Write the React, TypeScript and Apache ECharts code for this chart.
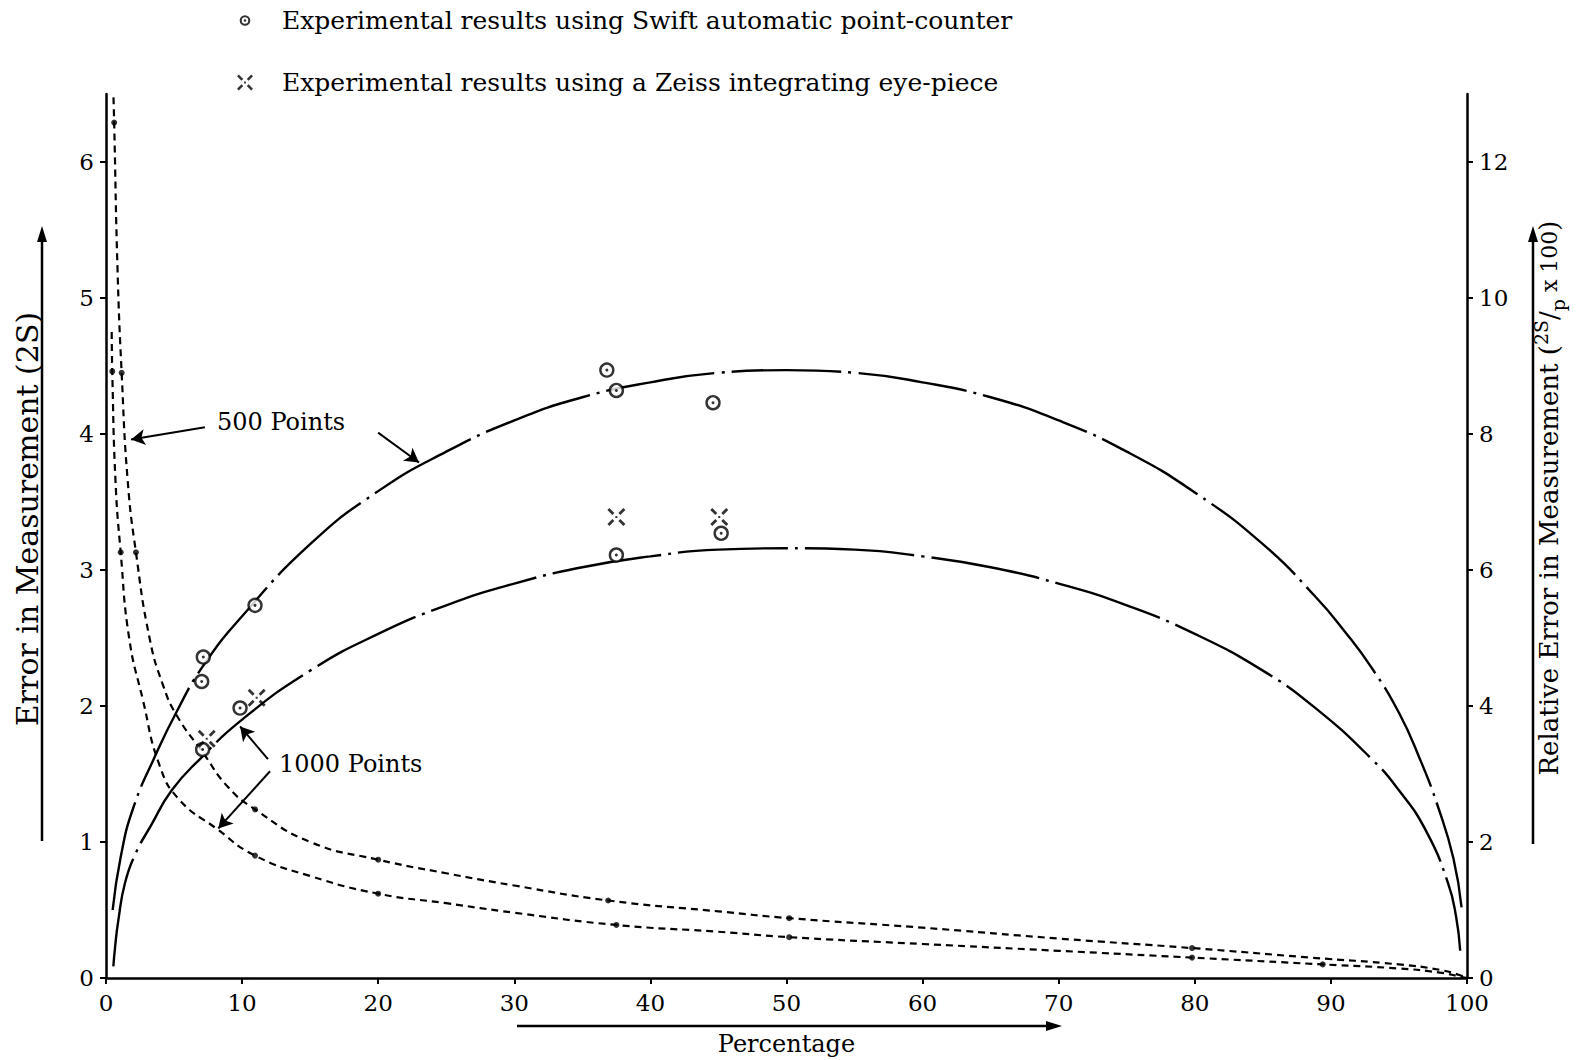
import React, { useEffect, useRef } from "react";
import * as echarts from "echarts";

// ---------- data ----------
const xTicks = [0, 10, 20, 30, 40, 50, 60, 70, 80, 90, 100];
const leftTicks = [0, 1, 2, 3, 4, 5, 6];
const rightTicks = [0, 2, 4, 6, 8, 10, 12];

// Error in measurement (2S), left axis
const arch500: number[][] = [
  [0.49, 0.5], [1.08, 0.89], [2.0, 1.25], [3.6, 1.63], [5.2, 1.96], [7.1, 2.29],
  [10, 2.66], [15, 3.19], [20, 3.58], [25, 3.87], [30, 4.1], [35, 4.27], [40, 4.38],
  [45, 4.45], [50, 4.47], [55, 4.45], [60, 4.38], [65, 4.27], [70, 4.1], [75, 3.87],
  [80, 3.57], [85, 3.19], [88.9, 2.8], [91, 2.55], [93, 2.28], [95, 1.95], [96.5, 1.62],
  [97.9, 1.25], [99, 0.88], [99.6, 0.52],
];
const arch1000: number[][] = [
  [0.54, 0.085], [0.66, 0.22], [0.9, 0.42], [1.4, 0.7], [2.2, 0.92], [3.3, 1.12],
  [4.83, 1.38], [6.9, 1.61], [10, 1.9], [15, 2.26], [20, 2.53], [25, 2.74], [30, 2.9],
  [35, 3.02], [40, 3.1], [45, 3.15], [50, 3.16], [55, 3.15], [60, 3.1], [65, 3.02],
  [70, 2.9], [75, 2.74], [80, 2.53], [85, 2.26], [88.8, 1.99], [93, 1.61], [95, 1.38],
  [97, 1.08], [98.6, 0.7], [99.2, 0.45], [99.5, 0.2],
];

// Relative error, right axis
const rel500: number[][] = [
  [0.55, 12.95], [0.6, 12.58], [0.85, 10.4], [1.15, 8.9], [1.6, 7.3], [2.2, 6.26],
  [3.2, 5.0], [4.2, 4.3], [5.2, 3.86], [7.1, 3.32], [9, 2.8], [10.95, 2.48], [15, 2.0],
  [20, 1.74], [25, 1.54], [30, 1.36], [36.9, 1.14], [45, 0.98], [50.2, 0.88], [60, 0.74],
  [70, 0.58], [79.8, 0.44], [88.5, 0.3], [95, 0.2], [98, 0.12], [99.5, 0.04], [100, 0],
];
const rel1000: number[][] = [
  [0.42, 9.5], [0.46, 8.92], [0.7, 7.3], [1.08, 6.26], [1.7, 5.0], [2.7, 4.1],
  [3.95, 3.12], [5.4, 2.62], [8.1, 2.2], [10.95, 1.8], [15, 1.5], [20, 1.24], [25, 1.1],
  [30, 0.96], [37.5, 0.78], [45, 0.68], [50.2, 0.6], [60, 0.5], [70, 0.4], [79.8, 0.3],
  [89.4, 0.2], [95, 0.14], [98, 0.08], [99.5, 0.02], [100, 0],
];
const rel500Dots: number[][] = [
  [0.6, 12.58], [1.15, 8.9], [2.2, 6.26], [10.95, 2.48], [20, 1.74], [36.9, 1.14],
  [50.2, 0.88], [79.8, 0.44],
];
const rel1000Dots: number[][] = [
  [0.46, 8.92], [1.08, 6.26], [10.95, 1.8], [20, 1.24], [37.5, 0.78], [50.2, 0.6],
  [79.8, 0.3], [89.4, 0.2],
];

// Experimental results
const swiftPoints: number[][] = [
  [7.03, 2.18], [7.15, 2.36], [10.95, 2.74], [9.85, 1.985], [7.1, 1.68],
  [36.8, 4.47], [37.5, 4.32], [44.6, 4.23], [45.2, 3.27], [37.5, 3.11],
];
const zeissPoints: number[][] = [
  [7.4, 1.76], [11.07, 2.06], [37.5, 3.39], [45.06, 3.39],
];

// annotation arrows (data coordinates, left axis)
const arrows500: number[][][] = [
  [[7.27, 4.05], [1.84, 3.96]],
  [[19.99, 4.01], [23.0, 3.79]],
];
const arrows1000: number[][][] = [
  [[11.9, 1.61], [9.85, 1.85]],
  [[12.05, 1.52], [8.25, 1.1]],
];

const SWIFT = "Experimental results using Swift automatic point-counter";
const ZEISS = "Experimental results using a Zeiss integrating eye-piece";

const FONT = "DejaVu Serif";

// ring with centre dot; the two zero-area sub-paths pad the icon so it draws smaller
const RING =
  "path://M-5,-5L-5,-5ZM25,25L25,25ZM10,0A10,10,0,1,1,10,20A10,10,0,1,1,10,0ZM10,4A6,6,0,1,0,10,16A6,6,0,1,0,10,4ZM10,7.5A2.5,2.5,0,1,1,10,12.5A2.5,2.5,0,1,1,10,7.5Z";
const CROSS =
  "path://M1,3L3,1L8,6L6,8ZM17,1L19,3L14,8L12,6ZM1,17L6,12L8,14L3,19ZM12,14L14,12L19,17L17,19ZM9,9L11,9L11,11L9,11Z";

export default function App() {
  const ref = useRef<HTMLDivElement>(null);

  useEffect(() => {
    if (!ref.current) return;
    const chart = echarts.init(ref.current, undefined, { renderer: "svg" });

    const archStyle = { color: "#000", width: 2.4, type: [110, 7, 3, 7] as any };
    const dashStyle = { color: "#000", width: 2.2, type: [7, 5] as any };
    const arrowLine = { color: "#000", width: 2, type: "solid" as const };
    const toMark = (arr: number[][][]) => arr.map((a) => [{ coord: a[0] }, { coord: a[1] }]);

    const option: any = {
      animation: false,
      backgroundColor: "#fff",
      textStyle: { fontFamily: FONT, color: "#000" },
      legend: {
        orient: "vertical",
        left: 232,
        top: 3,
        itemWidth: 16,
        itemHeight: 16,
        itemGap: 37,
        textStyle: { fontFamily: FONT, fontSize: 25, color: "#000", padding: [0, 0, 0, 24] },
        data: [
          { name: SWIFT, icon: RING, itemStyle: { color: "#000", borderWidth: 0 } },
          { name: ZEISS, icon: CROSS, itemStyle: { color: "#000", borderWidth: 0 } },
        ],
      },
      grid: { left: 106, right: 113, top: 94, bottom: 82, containLabel: false, outerBoundsMode: "none" },
      xAxis: {
        type: "value",
        min: 0,
        max: 100,
        interval: 10,
        axisLine: { show: true, lineStyle: { color: "#000", width: 2.5 } },
        axisTick: { show: true, inside: false, length: 6, lineStyle: { color: "#000", width: 2 }, customValues: xTicks },
        axisLabel: { fontFamily: FONT, fontSize: 23, color: "#000", margin: 13, customValues: xTicks },
        splitLine: { show: false },
        name: "Percentage",
        nameLocation: "middle",
        nameGap: 54,
        nameTextStyle: { fontFamily: FONT, fontSize: 24, color: "#000" },
      },
      yAxis: [
        {
          type: "value",
          position: "left",
          min: 0,
          max: 6.5,
          interval: 1,
          axisLine: { show: true, lineStyle: { color: "#000", width: 2.5 } },
          axisTick: { show: true, inside: false, length: 6, lineStyle: { color: "#000", width: 2 }, customValues: leftTicks },
          axisLabel: { fontFamily: FONT, fontSize: 23, color: "#000", margin: 12, customValues: leftTicks },
          splitLine: { show: false },
          name: "Error in Measurement (2S)",
          nameLocation: "middle",
          nameRotate: 90,
          nameGap: 64,
          nameTextStyle: { fontFamily: FONT, fontSize: 30, color: "#000", padding: [0, 0, 0, 34] },
        },
        {
          type: "value",
          position: "right",
          min: 0,
          max: 13,
          interval: 2,
          axisLine: { show: true, lineStyle: { color: "#000", width: 2.5 } },
          axisTick: { show: true, inside: false, length: 6, lineStyle: { color: "#000", width: 2 }, customValues: rightTicks },
          axisLabel: { fontFamily: FONT, fontSize: 23, color: "#000", margin: 12, customValues: rightTicks },
          splitLine: { show: false },
          name: "Relative Error in Measurement ({sup|2S}/{sub|p}{n| x 100})",
          nameLocation: "middle",
          nameRotate: 90,
          nameGap: 64,
          nameTextStyle: {
            fontFamily: FONT,
            fontSize: 26,
            color: "#000",
            lineHeight: 36,
            padding: [0, 0, 0, 76],
            rich: {
              sup: { fontFamily: FONT, fontSize: 19, verticalAlign: "top", color: "#000" },
              sub: { fontFamily: FONT, fontSize: 19, verticalAlign: "bottom", color: "#000" },
              n: { fontFamily: FONT, fontSize: 22, color: "#000" },
            },
          },
        },
      ],
      series: [
        {
          name: "500 Points (2S)",
          type: "line",
          data: arch500,
          yAxisIndex: 0,
          smooth: 0.5,
          showSymbol: false,
          lineStyle: archStyle,
          z: 2,
          markLine: {
            silent: true,
            symbol: ["none", "arrow"],
            symbolSize: [12, 14],
            label: { show: false },
            lineStyle: arrowLine,
            data: toMark(arrows500),
          },
        },
        {
          name: "1000 Points (2S)",
          type: "line",
          data: arch1000,
          yAxisIndex: 0,
          smooth: 0.5,
          showSymbol: false,
          lineStyle: archStyle,
          z: 2,
          markLine: {
            silent: true,
            symbol: ["none", "arrow"],
            symbolSize: [12, 14],
            label: { show: false },
            lineStyle: arrowLine,
            data: toMark(arrows1000),
          },
        },
        {
          name: "500 Points (relative)",
          type: "line",
          data: rel500,
          yAxisIndex: 1,
          smooth: 0.5,
          showSymbol: false,
          lineStyle: dashStyle,
          z: 2,
        },
        {
          name: "1000 Points (relative)",
          type: "line",
          data: rel1000,
          yAxisIndex: 1,
          smooth: 0.5,
          showSymbol: false,
          lineStyle: dashStyle,
          z: 2,
        },
        {
          name: "500 Points (relative) marks",
          type: "scatter",
          data: rel500Dots,
          yAxisIndex: 1,
          symbol: "circle",
          symbolSize: 6,
          itemStyle: { color: "#000" },
          z: 3,
        },
        {
          name: "1000 Points (relative) marks",
          type: "scatter",
          data: rel1000Dots,
          yAxisIndex: 1,
          symbol: "circle",
          symbolSize: 6,
          itemStyle: { color: "#000" },
          z: 3,
        },
        {
          name: SWIFT,
          type: "scatter",
          data: swiftPoints,
          yAxisIndex: 0,
          symbol: "circle",
          symbolSize: 13,
          itemStyle: { color: "#fff", borderColor: "#000", borderWidth: 2.4 },
          z: 5,
        },
        {
          name: "Swift centre",
          type: "scatter",
          data: swiftPoints,
          yAxisIndex: 0,
          symbol: "circle",
          symbolSize: 3,
          itemStyle: { color: "#000" },
          z: 6,
        },
        {
          name: ZEISS,
          type: "scatter",
          data: zeissPoints,
          yAxisIndex: 0,
          symbol: CROSS,
          symbolSize: 18,
          itemStyle: { color: "#000" },
          z: 5,
        },
      ],
      graphic: [
        { type: "text", left: 217, top: 410, style: { text: "500 Points", font: `24px "${FONT}"`, fill: "#000" } },
        { type: "text", left: 279, top: 752, style: { text: "1000 Points", font: `24px "${FONT}"`, fill: "#000" } },
        // axis direction arrows
        { type: "line", shape: { x1: 42, y1: 841, x2: 42, y2: 236 }, style: { stroke: "#000", lineWidth: 2.5 } },
        { type: "polygon", shape: { points: [[42, 226], [37, 242], [47, 242]] }, style: { fill: "#000" } },
        { type: "line", shape: { x1: 1533, y1: 844, x2: 1533, y2: 236 }, style: { stroke: "#000", lineWidth: 2.5 } },
        { type: "polygon", shape: { points: [[1533, 226], [1528, 242], [1538, 242]] }, style: { fill: "#000" } },
        { type: "line", shape: { x1: 517, y1: 1026, x2: 1050, y2: 1026 }, style: { stroke: "#000", lineWidth: 2.5 } },
        { type: "polygon", shape: { points: [[1062, 1026], [1046, 1021], [1046, 1031]] }, style: { fill: "#000" } },
      ],
    };

    chart.setOption(option);
    return () => chart.dispose();
  }, []);

  return (
    <div
      ref={ref}
      style={{ position: "fixed", left: 0, top: 0, width: 1580, height: 1060, background: "#fff" }}
    />
  );
}
